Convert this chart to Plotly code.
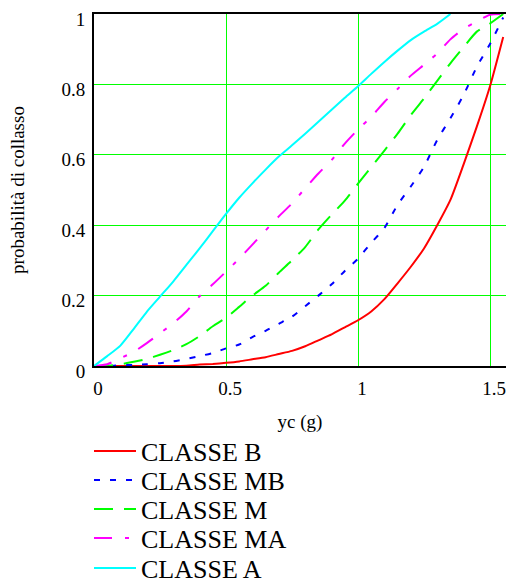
import plotly.graph_objects as go

# Acceleration grid (g) shared by the fragility curves
yc = [0.0, 0.05, 0.10, 0.15, 0.20, 0.25, 0.30, 0.35, 0.40, 0.45, 0.50, 0.55,
      0.60, 0.65, 0.70, 0.75, 0.80, 0.85, 0.90, 0.95, 1.00, 1.05, 1.10, 1.15,
      1.20, 1.25, 1.30, 1.35, 1.40, 1.45, 1.50, 1.55]

p_B = [0.0, 0.0, 0.0, 0.0, 0.0, 0.0, 0.0, 0.001, 0.004, 0.006, 0.009, 0.013,
       0.019, 0.025, 0.034, 0.043, 0.056, 0.073, 0.090, 0.110, 0.130, 0.155,
       0.190, 0.235, 0.282, 0.334, 0.400, 0.472, 0.573, 0.680, 0.795, 0.935]
p_MB = [0.0, 0.0, 0.002, 0.003, 0.005, 0.008, 0.013, 0.020, 0.028, 0.037,
        0.050, 0.061, 0.082, 0.100, 0.120, 0.140, 0.170, 0.200, 0.232, 0.270,
        0.305, 0.350, 0.392, 0.458, 0.510, 0.566, 0.642, 0.704, 0.770, 0.850,
        0.915, 0.990]
p_M = [0.0, 0.0, 0.005, 0.012, 0.020, 0.032, 0.045, 0.062, 0.085, 0.113,
       0.137, 0.168, 0.200, 0.228, 0.265, 0.300, 0.338, 0.388, 0.430, 0.470,
       0.518, 0.565, 0.612, 0.660, 0.713, 0.760, 0.810, 0.860, 0.906, 0.950,
       0.973, 1.0]
p_MA = [0.0, 0.005, 0.022, 0.040, 0.065, 0.093, 0.121, 0.155, 0.198, 0.232,
        0.268, 0.305, 0.345, 0.385, 0.425, 0.462, 0.505, 0.547, 0.585, 0.632,
        0.672, 0.708, 0.750, 0.787, 0.825, 0.856, 0.888, 0.928, 0.958, 0.979,
        0.998, 1.0]
p_A = [0.0, 0.028, 0.058, 0.105, 0.154, 0.197, 0.240, 0.287, 0.334, 0.383,
       0.432, 0.478, 0.519, 0.558, 0.595, 0.627, 0.660, 0.694, 0.728, 0.762,
       0.795, 0.830, 0.864, 0.896, 0.926, 0.950, 0.972, 1.0]

series = [
    ("CLASSE B", p_B, "#ff0000", "solid", "legend", 451),
    ("CLASSE MB", p_MB, "#0000ff", "6px,10px", "legend2", 480),
    ("CLASSE M", p_M, "#00ff00", "19px,11px", "legend3", 509),
    ("CLASSE MA", p_MA, "#ff00ff", "18px,13px,4px,13px", "legend4", 538),
    ("CLASSE A", p_A, "#00ffff", "solid", "legend5", 568),
]

W, H = 506, 583
L, T, B = 94, 14, 217
plot_h = H - T - B
plot_w = W - L
x_max = plot_w / 264.0

serif = "Liberation Serif, Times New Roman, serif"

fig = go.Figure()
layout_legends = {}
for name, vals, color, dash, leg, row_y in series:
    fig.add_trace(go.Scatter(
        x=yc[:len(vals)], y=vals, mode="lines", name=name,
        line=dict(color=color, width=2, dash=dash, shape="spline", smoothing=0.6),
        legend=leg,
    ))
    layout_legends[leg] = dict(
        x=(89 - L) / plot_w, xanchor="left",
        y=(H - B - row_y) / plot_h, yanchor="middle",
        font=dict(family=serif, size=26, color="black"),
        bgcolor="rgba(0,0,0,0)", borderwidth=0, itemwidth=42,
    )

fig.update_layout(
    width=W, height=H,
    margin=dict(l=L, r=0, t=T, b=B, pad=0, autoexpand=False),
    paper_bgcolor="white", plot_bgcolor="white",
    font=dict(family=serif, size=19, color="black"),
    showlegend=True,
    **layout_legends,
)

fig.update_xaxes(
    range=[0, x_max], tickvals=[0, 0.5, 1, 1.5], ticktext=["0", "0.5", "1", "1.5"],
    showgrid=True, gridcolor="#00ff00", gridwidth=1, zeroline=False,
    showline=True, linecolor="black", linewidth=2, mirror=True,
    ticks="", ticklabelshift=4, ticklabelstandoff=4,
    title=dict(text="yc (g)", font=dict(size=19), standoff=17),
    tickfont=dict(size=19),
)
fig.update_yaxes(
    range=[0, 1.0001], tickvals=[0, 0.2, 0.4, 0.6, 0.8, 1],
    ticktext=["0", "0.2", "0.4", "0.6", "0.8", "1"],
    showgrid=True, gridcolor="#00ff00", gridwidth=1, zeroline=False,
    showline=True, linecolor="black", linewidth=2, mirror=False,
    ticks="", ticklabelshift=5, ticklabelstandoff=3, ticklabeloverflow="allow",
    title=dict(text="probabilità di collasso", font=dict(size=19), standoff=32),
    tickfont=dict(size=19),
)

fig.write_html("out.html")
